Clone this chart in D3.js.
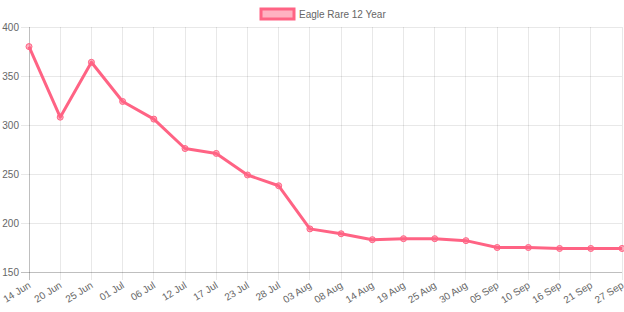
<!DOCTYPE html>
<html>
<head>
<meta charset="utf-8">
<script src="https://cdn.jsdelivr.net/npm/d3@7"></script>
<style>
    body { margin: 0; background: #fff; }
    svg { display: block; font-family: "Liberation Sans", Arial, sans-serif; }
</style>
</head>
<body>
<div id="chart"></div>
<script>
let labels = ["14 Jun", "20 Jun", "25 Jun", "01 Jul", "06 Jul", "12 Jul", "17 Jul", "23 Jul", "28 Jul", "03 Aug",
    "08 Aug", "14 Aug", "19 Aug", "25 Aug", "30 Aug", "05 Sep", "10 Sep", "16 Sep", "21 Sep", "27 Sep"];
let prices = [380, 308, 364, 324, 306, 276, 271, 249, 238, 194,
    189, 183, 184, 184, 182, 175, 175, 174, 174, 174];
let yTicks = [150, 200, 250, 300, 350, 400];
let seriesName = "Eagle Rare 12 Year";

let width = 624, height = 312;
let margin = {top: 27, right: 2, bottom: 40, left: 29};
let line_color = "rgb(255,99,132)";

let svg = d3.select("#chart").append("svg").attr("width", width).attr("height", height);

let x = d3.scalePoint().domain(labels).range([margin.left, width - margin.right]);
let y = d3.scaleLinear().domain([150, 400]).range([height - margin.bottom, margin.top]);

// grid
svg.append("g").selectAll("line").data(labels).enter().append("line")
    .attr("x1", d => x(d)).attr("x2", d => x(d))
    .attr("y1", margin.top).attr("y2", height - margin.bottom + 8)
    .attr("stroke", (d, i) => i === 0 ? "rgba(0,0,0,0.25)" : "rgba(0,0,0,0.09)")
    .attr("stroke-width", 1).attr("shape-rendering", "crispEdges");

svg.append("g").selectAll("line").data(yTicks).enter().append("line")
    .attr("x1", margin.left - 8).attr("x2", width - margin.right)
    .attr("y1", d => y(d)).attr("y2", d => y(d))
    .attr("stroke", (d, i) => i === 0 ? "rgba(0,0,0,0.25)" : "rgba(0,0,0,0.09)")
    .attr("stroke-width", 1).attr("shape-rendering", "crispEdges");

// y labels
svg.append("g").selectAll("text").data(yTicks).enter().append("text")
    .attr("x", margin.left - 10).attr("y", d => y(d)).attr("dy", "0.35em")
    .attr("text-anchor", "end").attr("fill", "#666").attr("font-size", 10)
    .text(d => d);

// x labels
svg.append("g").selectAll("text").data(labels).enter().append("text")
    .attr("transform", d => "translate(" + (x(d) + 0.5) + "," + (height - margin.bottom + 12) + ") rotate(-32)")
    .attr("dy", "0.35em")
    .attr("text-anchor", "end").attr("fill", "#666").attr("font-size", 10)
    .text(d => d);

// line
let lineGen = d3.line().x((d, i) => x(labels[i])).y(d => y(d));
svg.append("path").datum(prices)
    .attr("d", lineGen).attr("fill", "none")
    .attr("stroke", line_color).attr("stroke-width", 3)
    .attr("stroke-linejoin", "round");

svg.append("g").selectAll("circle").data(prices).enter().append("circle")
    .attr("cx", (d, i) => x(labels[i])).attr("cy", d => y(d)).attr("r", 3)
    .attr("fill", "rgba(255,99,132,0.5)").attr("stroke", line_color).attr("stroke-width", 1);

// legend
let legend = svg.append("g");
legend.append("rect").attr("x", 261).attr("y", 9).attr("width", 33).attr("height", 10)
    .attr("fill", "rgba(255,99,132,0.5)").attr("stroke", line_color).attr("stroke-width", 3);
legend.append("text").attr("x", 299).attr("y", 14).attr("dy", "0.35em")
    .attr("fill", "#666").attr("font-size", 10).text(seriesName);
</script>
</body>
</html>
